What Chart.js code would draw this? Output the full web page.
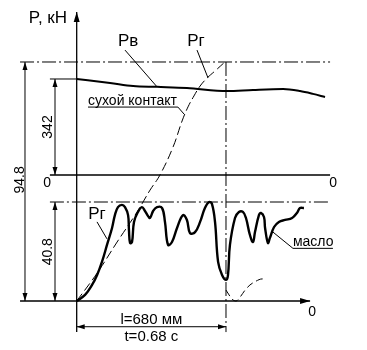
<!DOCTYPE html>
<html><head><meta charset="utf-8">
<script src="https://cdn.jsdelivr.net/npm/chart.js@4/dist/chart.umd.min.js"></script>
<style>html,body{margin:0;padding:0;background:#fff}canvas{display:block}</style>
</head><body>
<canvas id="c" width="367" height="350"></canvas>
<script>
// Lower panel ("масло"): Pг, кН vs t, s
const oilTime  = [0,0.038,0.070,0.093,0.115,0.138,0.161,0.174,0.188,0.206,0.220,0.234,0.238,0.243,0.252,0.261,0.279,0.297,0.311,0.325,0.334,0.348,0.366,0.389,0.402,0.416,0.434,0.457,0.484,0.502,0.516,0.539,0.562,0.584,0.603,0.616,0.630,0.644,0.662,0.680,0.689,0.698,0.721,0.739,0.757,0.771,0.789,0.803,0.812,0.830,0.839,0.853,0.858,0.871,0.880,0.899,0.921,0.949,0.981,1.003,1.017,1.035];
const oilForce = [0,2.5,6.6,10.7,16.1,23.1,30.1,35.4,38.7,39.6,38.7,35.4,29.3,23.9,24.3,32.6,36.7,38.7,37.1,35.0,34.2,37.1,38.7,38.3,32.6,23.1,24.3,30.1,35.4,33.4,28.0,28.4,32.6,38.3,40.8,40.0,32.6,16.1,10.7,8.7,10.7,23.1,34.2,36.7,36.7,34.2,27.2,24.3,28.4,35.4,36.3,34.6,30.1,23.9,26.0,30.5,32.6,33.4,34.2,36.3,38.3,38.3];
// Tail after unloading (dashed)
const tailTime  = [0.680,0.694,0.707,0.726,0.744,0.767,0.789,0.817,0.844,0.862];
const tailForce = [4.5,2.5,0.8,0,1.6,4.5,6.6,8.2,9.1,9.1];
// Pг for dry contact (dashed), same units as lower panel
const pgTime  = [0,0.093,0.184,0.275,0.334,0.379,0.439,0.480,0.507,0.534,0.562,0.594,0.630,0.675];
const pgForce = [0,11.5,24.3,36.7,45.7,51.9,63.5,74.2,80.0,84.5,88.6,91.9,94.8,98.5];
// Upper panel ("сухой контакт"): Pв
const pvTime  = [0,0.152,0.257,0.366,0.502,0.685,0.803,0.940,1.017,1.076,1.131];
const pvForce = [34.2,32.8,31.7,31.4,31.0,29.9,30.3,30.6,29.9,28.9,27.8];
// Reference levels / dimensions
const T_END = 0.68;
const OIL_MAX = 40.8;
const DRY_START = 34.2;
const TOP_LEVEL = 98.5;
const dimLabels = ["94.8", "342", "40.8"];

const pts = (xs, ys) => xs.map((x, i) => ({x, y: ys[i]}));

const FONT = '"Liberation Sans", Arial, sans-serif';
const DASHDOT = [14,3,2,3];

const drawing = {
  id: 'drawing',
  afterDatasetsDraw(chart) {
    const ctx = chart.ctx;
    const X = chart.scales.x, YO = chart.scales.yOil, YD = chart.scales.yDry;
    const P = (t, v, ax) => [X.getPixelForValue(t), (ax === 'd' ? YD : YO).getPixelForValue(v)];
    function line(a, b, opt = {}) {
      ctx.save();
      ctx.strokeStyle = '#000';
      ctx.lineWidth = opt.w || 1;
      ctx.setLineDash(opt.dash || []);
      ctx.beginPath();
      ctx.moveTo(a[0], a[1]);
      ctx.lineTo(b[0], b[1]);
      ctx.stroke();
      ctx.restore();
    }
    function poly(list, opt = {}) {
      for (let i = 0; i < list.length - 1; i++) line(list[i], list[i+1], opt);
    }
    function arrow(tip, from, len = 8, hw = 2.5) {
      const ang = Math.atan2(tip[1] - from[1], tip[0] - from[0]);
      ctx.save();
      ctx.fillStyle = '#000';
      ctx.translate(tip[0], tip[1]);
      ctx.rotate(ang);
      ctx.beginPath();
      ctx.moveTo(0, 0);
      ctx.lineTo(-len, -hw);
      ctx.lineTo(-len, hw);
      ctx.closePath();
      ctx.fill();
      ctx.restore();
    }
    function text(s, p, size, align = 'center', rot = 0) {
      ctx.save();
      ctx.fillStyle = '#000';
      ctx.font = size + 'px ' + FONT;
      ctx.textAlign = align;
      ctx.textBaseline = 'middle';
      ctx.translate(p[0], p[1]);
      if (rot) ctx.rotate(rot);
      ctx.fillText(s, 0, 0);
      ctx.restore();
    }
    // Axes
    const yTop = P(0, 119.1), yBot = P(0, -12.8);
    line(yBot, yTop, {w: 1.3}); arrow(yTop, yBot, 10, 3);
    const bL = P(-0.258, 0), bR = P(1.063, 0);
    line(bL, bR, {w: 1.3}); arrow(bR, bL, 10, 3);
    line(P(-0.122, 0, 'd'), P(1.154, 0, 'd'), {w: 1.3});
    // Dash-dot reference lines
    line(P(-0.122, OIL_MAX), P(1.154, OIL_MAX), {dash: DASHDOT});
    line(P(-0.258, TOP_LEVEL), P(1.154, TOP_LEVEL), {dash: DASHDOT});
    line(P(T_END, TOP_LEVEL), P(T_END, -12.8), {dash: DASHDOT});
    // Extension line for Pв start
    line(P(-0.122, DRY_START, 'd'), P(0, DRY_START, 'd'));
    // Dimension lines
    const d1a = P(-0.2355, 0), d1b = P(-0.2355, TOP_LEVEL);
    line(d1a, d1b); arrow(d1a, d1b); arrow(d1b, d1a);
    const d2a = P(-0.0988, 0, 'd'), d2b = P(-0.0988, DRY_START, 'd');
    line(d2a, d2b); arrow(d2a, d2b); arrow(d2b, d2a);
    const d3a = P(-0.0988, 0), d3b = P(-0.0988, OIL_MAX);
    line(d3a, d3b); arrow(d3a, d3b); arrow(d3b, d3a);
    const h1 = P(0, -10.6), h2 = P(T_END, -10.6);
    line(h1, h2); arrow(h1, h2); arrow(h2, h1);
    // Dimension texts
    text(dimLabels[0], P(-0.258, 49.9), 14, 'center', -Math.PI/2);
    text(dimLabels[1], P(-0.131, 17.1, 'd'), 14, 'center', -Math.PI/2);
    text(dimLabels[2], P(-0.131, 20.3), 14, 'center', -Math.PI/2);
    text('l=680 мм', P(0.34, -7.8), 15);
    text('t=0.68 с', P(0.34, -14.8), 15);
    // Zeros
    text('0', P(-0.135, -2.85, 'd'), 14);
    text('0', P(1.168, -2.85, 'd'), 14);
    text('0', P(1.072, -4.53), 14);
    // Axis title
    text('P, кН', P(-0.131, 116.6), 17);
    // Curve labels & leaders
    text('Pв', P(0.234, 47.7, 'd'), 17);
    line(P(0.220, 44.5, 'd'), P(0.366, 31.4, 'd'));
    text('Pг', P(0.543, 47.7, 'd'), 17);
    line(P(0.548, 44.5, 'd'), P(0.598, 34.6, 'd'));
    text('сухой контакт', P(0.0515, 26.4, 'd'), 14, 'left');
    poly([P(0.0515, 24.2, 'd'), P(0.461, 24.2, 'd'), P(0.489, 21.7, 'd')]);
    text('Pг', P(0.0925, 35.9), 17);
    line(P(0.0925, 32.6), P(0.138, 25.6));
    text('масло', P(0.985, 24.4), 14, 'left');
    line(P(0.985, 21.7), P(1.167, 21.7));
    line(P(0.985, 21.7), P(0.894, 28.4));
  }
};

new Chart(document.getElementById('c'), {
  type: 'scatter',
  data: {
    datasets: [
      {data: pts(oilTime, oilForce), yAxisID: 'yOil', showLine: true, borderColor: '#000', borderWidth: 2.4, pointRadius: 0, tension: 0.4, fill: false},
      {data: pts(tailTime, tailForce), yAxisID: 'yOil', showLine: true, borderColor: '#000', borderWidth: 1, borderDash: [7,4], pointRadius: 0, cubicInterpolationMode: 'monotone', fill: false},
      {data: pts(pgTime, pgForce), yAxisID: 'yOil', showLine: true, borderColor: '#000', borderWidth: 1, borderDash: [9,4], pointRadius: 0, tension: 0.4, fill: false},
      {data: pts(pvTime, pvForce), yAxisID: 'yDry', showLine: true, borderColor: '#000', borderWidth: 2, pointRadius: 0, cubicInterpolationMode: 'monotone', fill: false}
    ]
  },
  options: {
    responsive: false,
    devicePixelRatio: 1,
    animation: false,
    layout: {padding: 0},
    plugins: {legend: {display: false}, tooltip: {enabled: false}},
    scales: {
      x: {type: 'linear', display: false, min: -0.3493, max: 1.3222},
      yOil: {type: 'linear', display: false, min: -20.19, max: 124.05},
      yDry: {type: 'linear', display: false, min: -62.34, max: 62.34}
    }
  },
  plugins: [drawing]
});
</script>
</body></html>
